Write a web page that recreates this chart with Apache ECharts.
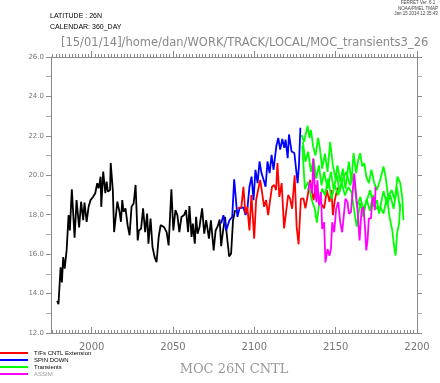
<!DOCTYPE html>
<html><head><meta charset="utf-8">
<script src="https://cdn.jsdelivr.net/npm/echarts@6/dist/echarts.min.js"></script>
<style>html,body{margin:0;padding:0;background:#fff}#c{width:440px;height:383px}</style>
</head><body><div id="c"></div>
<script>
// ---- data ----
const xTickLabels = [2000, 2050, 2100, 2150, 2200];
const yTickLabels = [12, 14, 16, 18, 20, 22, 24, 26];
const seriesNames = ['T/Fs CNTL Extension', 'SPIN DOWN', 'Transients', 'ASSIM'];

const cntlYears = [1978.8,1979.6,1980.9,1981.7,1982.5,1983.4,1984.6,1985.8,1986.6,1987.8,1989.5,1990.7,1992.3,1993.5,1994.8,1995.6,1996.9,1998.1,1999.3,2000.9,2002.2,2003.4,2004.3,2005.5,2005.9,2007.1,2008.4,2009.2,2010,2011.3,2011.7,2013,2013.8,2015,2015.8,2017.1,2018,2018.8,2019.6,2020.8,2022.1,2023.3,2024.5,2025.8,2027,2028.3,2029.1,2030.4,2031.6,2032.9,2034.1,2034.9,2036.2,2037.4,2038.7,2039.9,2041.2,2042.4,2044.4,2046.1,2047.3,2049,2050.2,2051.5,2052.7,2053.9,2055.2,2056.8,2058,2059.3,2060.1,2061.4,2062.2,2063.4,2064.2,2065.1,2066.3,2067.1,2067.9,2069.2,2070.4,2072.1,2073.3,2075,2076.2,2077.5,2078.7,2079.6,2080.8,2082,2082.8,2084.5,2085.7,2086.9,2088.2];
const cntlValues = [13.63,13.46,15.33,14.57,15.85,15.27,16.19,17.98,17.2,19.29,16.84,18.74,17.35,18.66,17.72,18.62,17.64,18.4,18.74,18.91,19.09,19.6,19.34,19.93,18.4,20.19,19.09,19.68,19.17,19.25,20.62,19.25,17.12,17.21,18.66,18.15,17.64,18.74,18.15,18.32,17.47,16.96,18.4,18.57,19.51,16.7,17.2,17.3,18.32,17.12,18.06,16.53,17.81,16.36,15.85,15.59,16.87,17.47,17.38,17.12,16.44,19.29,17.2,18.23,17.98,17.12,17.89,17.98,18.23,17.12,18.44,16.87,17.55,16.53,17.89,17.04,17.38,17.3,18.32,17.04,17.72,16.79,17.72,16.19,17.2,17.42,17.76,16.4,17.2,17.89,17.2,15.88,16.02,17.72,18.23];

const spinYears = [2079.6,2081,2082.7,2084.7,2086.4,2087.6,2088.8,2089.6,2090.9,2092.1,2093.3,2094.6,2095.8,2097,2098.3,2099.5,2100.7,2102,2103.2,2104.4,2105.7,2106.9,2108.1,2109.4,2110.6,2111.8,2113.5,2114.7,2115.9,2117.2,2118.4,2119.2,2120.5,2121.3,2122.9,2124.6,2125.8,2126.6,2127.4,2128.3];
const spinValues = [17.55,17.98,17.2,17.72,17.89,19.8,19.77,17.89,18.32,18.23,18.37,17.98,18.37,19.42,19.93,18.74,20.28,19.6,20.7,20.11,19.77,19.42,20.7,20.11,21.04,20.28,21.47,21.9,21.3,21.84,21.39,21.81,20.87,22.07,21.21,21.13,21.13,19.6,20.45,22.41];

const extYears = [2089.6,2090.8,2092.0,2093.3,2094.5,2095.7,2097.0,2098.2,2099.9,2101.1,2102.3,2103.6,2104.8,2106.0,2107.2,2108.5,2109.7,2110.9,2112.2,2113.4,2114.2,2115.4,2116.8,2118.3,2120.8,2122.0,2123.2,2124.8,2126.0,2127.2,2128.6,2130.2,2131.4,2132.7,2134.3,2136.4,2138.0,2139.2,2140.5,2141.7,2142.9,2144.6,2146.2,2147.4,2148.3,2149.5,2150.8,2152.0];
const extValues = [18.32,18.23,18.37,19.42,18.06,18.4,17.2,19.0,16.79,18.74,19.25,19.77,19.09,18.4,18.74,17.98,18.74,19.42,19.51,19.25,20.62,18.9,19.6,17.3,19.0,18.8,18.3,20.0,17.4,16.5,18.8,18.83,18.32,18.91,19.77,18.74,19.51,18.91,18.65,18.74,18.32,19.25,18.65,19.25,17.98,18.74,19.25,19.42];

const trans1Years = [2129.0,2130.6,2132.7,2133.9,2134.8,2136.2,2137.6,2139.2,2140.3,2141.7,2143.4,2145.0,2146.6,2148.3,2149.9,2151.1,2152.8,2154.4,2156.0,2158.1,2159.7,2161.0,2162.6,2163.9,2165.1,2166.3,2167.6,2168.8,2170.4,2172.0,2173.7,2175.4,2177.4,2179.4,2180.7,2182.3,2184.4,2186.4,2188.0,2189.7,2190.9,2191.7];
const trans1Values = [22.05,21.7,22.5,21.9,22.3,21.45,21.0,21.9,21.36,20.34,21.1,20.17,21.7,20.5,19.83,20.5,19.66,20.34,19.32,20.69,19.66,21.13,20.11,20.79,21.13,20.45,20.62,19.93,19.6,20.28,19.6,19.25,19.77,20.45,19.93,18.91,19.25,18.74,19.93,19.6,18.91,17.72];

const trans2Years = [2129.8,2131.4,2133.1,2134.8,2136.4,2138.0,2139.7,2141.3,2142.9,2145.0,2147.1,2148.7,2150.8,2152.4,2154.4,2156.5,2158.9,2161.0,2163.1,2165.1,2167.1,2169.2,2171.2,2173.3,2175.4,2176.6,2179.4,2181.5,2183.6,2185.6,2187.7,2189.7];
const trans2Values = [21.7,20.69,21.2,20.17,20.85,19.83,20.5,19.49,20.17,19.32,20.17,19.32,20.0,19.15,19.83,20.17,19.49,20.0,18.4,18.91,18.23,18.74,19.25,18.4,18.74,18.06,19.2,18.5,19.0,18.3,19.4,18.2];

const trans3Years = [2129.5,2131.1,2133.1,2135.1,2137.2,2138.4,2140.0,2141.7,2143.4,2145.4,2147.4,2149.5,2151.6,2153.6,2155.7,2157.7,2159.7,2162.9,2165.0,2167.0,2169.0,2171.0,2173.0,2175.0,2177.4,2179.4,2181.5,2183.1,2184.8,2186.0,2186.9,2187.7,2189.0,2189.7];
const trans3Values = [21.5,19.3,19.66,18.8,18.3,17.6,18.64,19.32,18.98,19.83,18.8,19.49,18.98,19.66,18.98,19.4,19.15,17.4,18.6,17.9,18.8,18.2,19.0,18.3,18.4,18.06,18.91,17.89,17.21,16.36,15.93,17.04,17.55,18.57];

const assimYears = [2133.1,2134.1,2135.6,2136.2,2137.2,2138.2,2138.8,2139.7,2140.9,2141.7,2142.9,2143.7,2145.0,2146.2,2147.1,2147.9,2149.1,2150.3,2151.6,2152.8,2154.0,2155.2,2156.0,2157.3,2158.1,2159.4,2160.6,2161.4,2162.6,2163.4,2164.7,2165.9,2167.1,2168.0,2168.8,2169.6,2170.4,2171.7,2172.5,2173.3,2174.1,2174.5];
const assimValues = [19.24,19.66,19.07,20.85,19.32,18.64,19.75,18.47,19.15,17.28,17.62,15.58,16.26,15.92,16.26,17.62,17.11,18.3,18.64,17.62,17.11,18.13,18.81,18.64,18.05,18.13,18.03,20.1,20.1,18.23,16.7,18.23,18.4,17.38,16.19,16.7,17.81,17.81,18.74,18.91,18.23,19.42];

// ---- build ----
const pairs = (xs, ys) => xs.map((x, i) => [x, ys[i]]);
const minorX = [];
for (let y = 1976; y < 2200; y += 2) minorX.push(y);

const axisGray = '#8a8a8a';
const F = 'DejaVu Sans';

function xAx(pos, ticks, len, inside, labels) {
  return {
    type: 'value', min: 1975, max: 2200, position: pos,
    axisLine: { show: true, lineStyle: { color: axisGray, width: 1 } },
    axisTick: { show: true, customValues: ticks, length: len, inside: inside, lineStyle: { color: axisGray } },
    axisLabel: labels ? { show: true, customValues: xTickLabels, color: '#777', fontSize: 10, fontFamily: F, margin: 9, formatter: v => String(Math.round(v)) } : { show: false },
    splitLine: { show: false }
  };
}
function yAx(pos, labels) {
  return {
    type: 'value', min: 12, max: 26, interval: 2, position: pos,
    axisLine: { show: true, lineStyle: { color: axisGray, width: 1 } },
    axisTick: { show: true, length: 5, inside: false, lineStyle: { color: axisGray } },
    minorTick: { show: true, splitNumber: 2, length: 5, lineStyle: { color: '#aaa' } },
    axisLabel: labels ? { show: true, color: '#777', fontSize: 7, fontFamily: F, margin: 7, formatter: v => v.toFixed(1) } : { show: false },
    splitLine: { show: false }, minorSplitLine: { show: false }
  };
}
function line(name, xs, ys, color, z) {
  return { type: 'line', name: name, data: pairs(xs, ys), showSymbol: false, symbol: 'none',
    lineStyle: { color: color, width: 1.8 }, itemStyle: { color: color }, z: z, xAxisIndex: 0, yAxisIndex: 0 };
}

const chart = echarts.init(document.getElementById('c'), null, { renderer: 'canvas' });
chart.setOption({
  animation: false,
  textStyle: { fontFamily: F },
  grid: { left: 51, right: 23, top: 57, bottom: 50, containLabel: false },
  xAxis: [
    xAx('bottom', xTickLabels, 6, true, true),
    xAx('bottom', minorX, 3, true, false),
    xAx('top', xTickLabels, 6, false, false),
    xAx('top', minorX, 3, false, false)
  ],
  yAxis: [yAx('left', true), yAx('right', false)],
  legend: {
    orient: 'vertical', left: 0, top: 350, itemWidth: 28, itemHeight: 2, itemGap: 1, icon: 'rect',
    padding: 0,
    textStyle: { fontSize: 6, fontFamily: 'Liberation Sans', color: '#000', padding: [0, 0, 0, 1] },
    data: [
      { name: seriesNames[0] }, { name: seriesNames[1] }, { name: seriesNames[2] },
      { name: seriesNames[3], textStyle: { color: '#999' } }
    ]
  },
  graphic: [
    { type: 'text', left: 50, top: 13, style: { text: 'LATITUDE : 26N', fontSize: 7, fontFamily: 'Liberation Sans', fill: '#000' } },
    { type: 'text', left: 50, top: 24, style: { text: 'CALENDAR: 360_DAY', fontSize: 7, fontFamily: 'Liberation Sans', fill: '#000' } },
    { type: 'text', left: 61, top: 37, style: { text: '[15/01/14]/home/dan/WORK/TRACK/LOCAL/MOC_transients3_26', fontSize: 11.5, fontFamily: F, fill: '#888' } },
    { type: 'text', x: 418, y: 3, style: { text: 'FERRET Ver. 6.1', fontSize: 4.5, fontFamily: 'Liberation Sans', fill: '#444', align: 'center', verticalAlign: 'middle' } },
    { type: 'text', x: 418, y: 8.5, style: { text: 'NOAA/PMEL TMAP', fontSize: 4.5, fontFamily: 'Liberation Sans', fill: '#444', align: 'center', verticalAlign: 'middle' } },
    { type: 'text', x: 416, y: 14, style: { text: 'Jan 15 2014 12:35:43', fontSize: 4.5, fontFamily: 'Liberation Sans', fill: '#444', align: 'center', verticalAlign: 'middle' } },
    { type: 'text', x: 234, y: 370, style: { text: 'MOC 26N CNTL', fontSize: 13, fontFamily: 'DejaVu Serif', fill: '#999', align: 'center', verticalAlign: 'middle' } }
  ],
  series: [
    line('CNTL', cntlYears, cntlValues, '#000000', 2),
    line(seriesNames[1], spinYears, spinValues, '#0000ff', 3),
    line(seriesNames[0], extYears, extValues, '#ff0000', 4),
    line(seriesNames[2], trans1Years, trans1Values, '#00ff00', 5),
    line(seriesNames[2], trans2Years, trans2Values, '#00ff00', 5),
    line(seriesNames[2], trans3Years, trans3Values, '#00ff00', 5),
    line(seriesNames[3], assimYears, assimValues, '#ff00ff', 6)
  ]
});
</script></body></html>
